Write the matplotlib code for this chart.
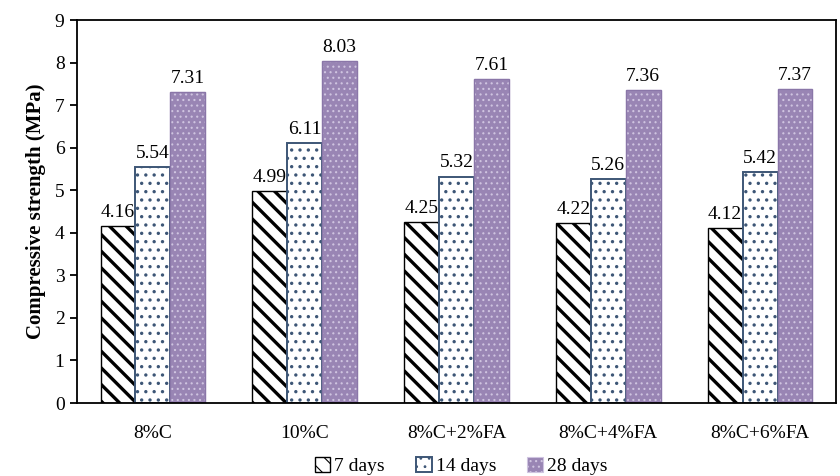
import matplotlib
matplotlib.use("Agg")
import matplotlib.pyplot as plt
import numpy as np

categories = ["8%C", "10%C", "8%C+2%FA", "8%C+4%FA", "8%C+6%FA"]
series_names = ["7 days", "14 days", "28 days"]
d7 = [4.16, 4.99, 4.25, 4.22, 4.12]
d14 = [5.54, 6.11, 5.32, 5.26, 5.42]
d28 = [7.31, 8.03, 7.61, 7.36, 7.37]

plt.rcParams['font.family'] = ['Liberation Serif', 'DejaVu Serif']
plt.rcParams['hatch.linewidth'] = 2.4

fig = plt.figure(figsize=(8.4, 4.76), dpi=100)
ax = fig.add_axes([77 / 840, 1 - 403 / 476, 759 / 840, 383 / 476])

x = np.arange(len(categories))
w = 0.23
b1 = ax.bar(x - w, d7, w, facecolor='white', edgecolor='black', hatch='\\\\', linewidth=1.0, label=series_names[0])
plt.rcParams['hatch.linewidth'] = 1.2
b2 = ax.bar(x, d14, w, facecolor='white', edgecolor='#3d5676', hatch='..', linewidth=1.4, label=series_names[1])
plt.rcParams['hatch.linewidth'] = 0.8
b3 = ax.bar(x + w, d28, w, facecolor='#9985b4', edgecolor='#cfc4e0', hatch='...', linewidth=0.8, label=series_names[2])
ax.bar(x + w, d28, w, facecolor='none', edgecolor='#8a76a8', linewidth=1.0)

for bars, vals in [(b1, d7), (b2, d14), (b3, d28)]:
    for r, v in zip(bars, vals):
        ax.text(r.get_x() + r.get_width() / 2, v + 0.12, f"{v:.2f}", ha='center', va='bottom', fontsize=14)

ax.set_ylim(0, 9)
ax.set_yticks(range(0, 10))
ax.set_xlim(-0.5, 4.5)
ax.set_xticks(x)
ax.set_xticklabels(categories, fontsize=14)
ax.tick_params(axis='x', length=0, pad=16)
ax.tick_params(axis='y', labelsize=14, length=5, width=1.3, pad=4)
for s in ax.spines.values():
    s.set_linewidth(1.3)
ax.set_ylabel("Compressive strength (MPa)", fontsize=15, fontweight='bold', labelpad=6)

fig.legend(handles=[b1, b2, b3], labels=series_names, loc='center', ncol=3, frameon=False,
           bbox_to_anchor=(461 / 840, 1 - 466 / 476), fontsize=14, handlelength=0.8, handleheight=0.8,
           handletextpad=0.2, columnspacing=1.6, borderpad=0)

fig.savefig("out.png", dpi=100)
